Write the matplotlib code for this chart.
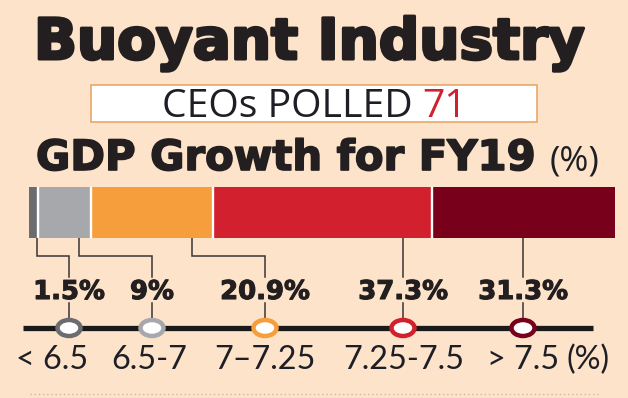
import matplotlib
matplotlib.use("Agg")
import matplotlib.pyplot as plt
import matplotlib.patheffects as pe
from matplotlib.patches import Ellipse, Rectangle
import numpy as np

# ---------------- data ----------------
title = "Buoyant Industry"
poll_label = "CEOs POLLED "
poll_count = "71"
subtitle = "GDP Growth for FY19"
unit = "(%)"
categories = ["< 6.5", "6.5-7", "7\u20137.25", "7.25-7.5", "> 7.5"]
shares = [1.5, 9, 20.9, 37.3, 31.3]
value_labels = ["1.5%", "9%", "20.9%", "37.3%", "31.3%"]
colors = ["#6b6c6f", "#a7a8ab", "#f69d3c", "#d3202e", "#78001a"]

# ---------------- layout (pixels) ----------------
W, H = 628, 398
BG = "#fde3c9"
DARK = "#1e1f26"
INK = "#231f20"
drop_x = [37, 79, 192, 403, 523]
node_x = [69, 152, 265, 403, 523]
tick_x = [52, 149, 265, 404, 523]

fig = plt.figure(figsize=(W / 100, H / 100), dpi=100, facecolor=BG)
ax = fig.add_axes([0, 0, 1, 1])
ax.set_xlim(0, W)
ax.set_ylim(H, 0)
ax.axis("off")
ax.set_facecolor(BG)
r = fig.canvas.get_renderer()


def fit(t, target_w):
    w = t.get_window_extent(r).width
    t.set_fontsize(t.get_fontsize() * target_w / w)
    return t


# title
t = ax.text(34, 59, title, fontsize=36, fontfamily="DejaVu Sans", fontweight="bold",
            color=INK, ha="left", va="baseline",
            path_effects=[pe.withStroke(linewidth=2.2, foreground=INK)])
fit(t, 551)

# poll box
ax.add_patch(Rectangle((91, 85), 446, 37, facecolor="white", edgecolor="#e9a867", lw=1.2))
t1 = ax.text(162, 117, poll_label, fontsize=22, fontfamily="Open Sans", color=DARK,
             ha="left", va="baseline")
w1 = t1.get_window_extent(r).width
t2 = ax.text(162 + w1, 117, poll_count, fontsize=22, fontfamily="Open Sans", color="#d3202e",
             ha="left", va="baseline")
w2 = t2.get_window_extent(r).width
scale = 305 / (w1 + w2)
t1.set_fontsize(22 * scale)
w1 = t1.get_window_extent(r).width
t2.set_fontsize(22 * scale)
t2.set_x(162 + w1)

# subtitle
s = ax.text(36, 170, subtitle, fontsize=22, fontfamily="DejaVu Sans", fontweight="bold",
            color=INK, ha="left", va="baseline",
            path_effects=[pe.withStroke(linewidth=1.2, foreground=INK)])
fit(s, 498)
ws = s.get_window_extent(r).width
u = ax.text(36 + ws + 14, 170, unit, fontsize=18, fontfamily="Open Sans", color=DARK,
            ha="left", va="baseline")
fit(u, 50)

# stacked bar
bx0, bx1, by0, by1 = 29, 615, 187, 238
axb = fig.add_axes([bx0 / W, 1 - by1 / H, (bx1 - bx0) / W, (by1 - by0) / H])
lefts = np.concatenate([[0], np.cumsum(shares)[:-1]])
axb.barh([0], shares, left=lefts, height=1, color=colors, linewidth=0)
for b in np.cumsum(shares)[:-1]:
    axb.axvline(b, color="white", lw=1.7)
axb.set_xlim(0, sum(shares))
axb.set_ylim(-0.5, 0.5)
axb.axis("off")

# connectors
lc = "#3a3433"
for dx, nx in zip(drop_x, node_x):
    ax.plot([dx, dx, nx, nx], [by1, 256, 256, 277], color=lc, lw=1.1, solid_joinstyle="miter")
    ax.plot([nx, nx], [303, 318], color=lc, lw=1.1)

# value labels
vl = []
for nx, lab in zip(node_x, value_labels):
    vl.append(ax.text(nx, 299, lab, fontsize=19, fontfamily="DejaVu Sans", fontweight="bold",
                      color=INK, ha="center", va="baseline",
                      path_effects=[pe.withStroke(linewidth=0.8, foreground=INK)]))
wv = vl[2].get_window_extent(r).width
fsv = 19 * 90 / wv
for t in vl:
    t.set_fontsize(fsv)

# timeline
ax.plot([23, 593], [328, 328], color="#1a1a1a", lw=3.8, solid_capstyle="butt", zorder=2)
for nx, c in zip(node_x, colors):
    ax.add_patch(Ellipse((nx, 328), 23, 16, facecolor="white", edgecolor=c, lw=3.2, zorder=3))

# tick labels
tl = []
for tx, cat in zip(tick_x, categories):
    tl.append(ax.text(tx, 369, cat, fontsize=20, fontfamily="Lato", color=DARK,
                      ha="center", va="baseline"))
w_ref = tl[3].get_window_extent(r).width
fs = 20 * 121 / w_ref
for t in tl:
    t.set_fontsize(fs)
ax.text(567, 369, unit, fontsize=fs, fontfamily="Lato", color=DARK, ha="left", va="baseline")

# faint dotted rule at the bottom
ax.plot([30, 600], [394, 394], color="#cdb9a6", lw=1, ls=(0, (1, 2)))

fig.savefig("out.png", dpi=100, facecolor=BG)
